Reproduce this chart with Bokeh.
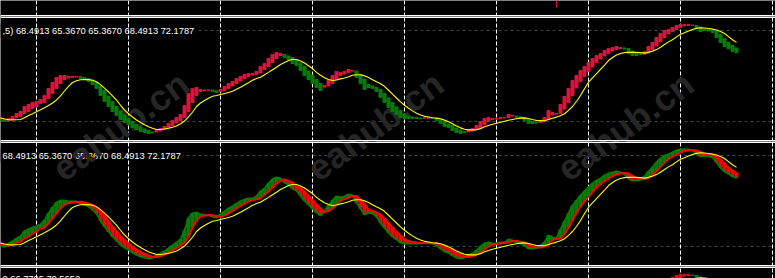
import numpy as np
from bokeh.plotting import figure
from bokeh.layouts import column
from bokeh.models import Range1d, Span, Label, Grid, FixedTicker, ColumnDataSource
from bokeh.embed import file_html
from bokeh.resources import INLINE
from bokeh.core.properties import value

# ---------------- data ----------------
ha_open = [
    21.3, 21.0, 20.7, 21.3, 22.6, 23.3, 25.3, 26.6, 28.6, 29.9,
    31.9, 32.5, 35.2, 38.5, 41.8, 45.1, 47.7, 48.7, 49.0, 49.3,
    49.5, 49.0, 48.3, 47.4, 45.7, 43.7, 40.4, 36.8, 33.2, 29.9,
    26.9, 24.3, 22.0, 20.0, 18.0, 16.4, 15.1, 14.1, 13.1, 13.1,
    13.7, 14.7, 15.7, 17.4, 19.0, 20.7, 22.6, 26.6, 32.5, 37.1,
    39.8, 40.4, 40.6, 40.7, 40.2, 39.6, 40.4, 41.8, 43.4, 45.1,
    46.7, 48.3, 49.7, 50.7, 51.0, 52.0, 54.3, 56.3, 58.9, 61.5,
    63.5, 64.2, 63.2, 62.2, 60.2, 58.6, 56.3, 53.3, 50.7, 47.7,
    45.1, 42.7, 43.4, 45.1, 47.7, 50.3, 51.3, 52.3, 53.3, 53.3,
    51.0, 48.0, 44.4, 43.4, 42.4, 41.1, 38.5, 35.5, 32.5, 29.6,
    27.3, 24.9, 23.6, 23.0, 22.6, 22.3, 22.2, 22.2, 22.3, 22.2,
    21.3, 20.0, 18.4, 17.4, 15.7, 14.4, 13.4, 13.1, 13.7, 14.7,
    16.0, 18.0, 20.0, 21.3, 21.6, 22.0, 22.3, 22.6, 23.6, 23.6,
    23.1, 22.6, 21.6, 20.0, 19.3, 19.3, 20.0, 21.3, 24.3, 24.9,
    25.3, 28.2, 32.5, 37.1, 42.1, 46.4, 49.7, 53.0, 55.9, 58.9,
    61.2, 63.2, 64.8, 66.5, 67.5, 68.1, 68.5, 68.1, 66.5, 65.2,
    64.5, 64.4, 65.2, 67.5, 69.8, 72.7, 75.4, 77.7, 79.3, 80.7,
    82.0, 83.0, 83.3, 83.6, 83.3, 82.3, 81.0, 80.5, 80.0, 79.3,
    77.4, 74.7, 72.1, 70.1, 68.4913,
]
ha_close = [
    20.3, 20.0, 22.0, 23.3, 25.3, 26.6, 29.9, 31.2, 32.5, 33.2,
    34.5, 37.1, 41.8, 45.7, 49.0, 50.3, 50.3, 49.7, 49.7, 49.7,
    48.3, 47.7, 46.4, 44.4, 41.8, 37.1, 33.2, 29.9, 26.6, 24.0,
    21.3, 19.3, 18.0, 16.0, 14.7, 13.4, 12.7, 12.1, 12.7, 14.4,
    15.4, 16.7, 18.7, 20.7, 22.6, 24.6, 30.5, 38.5, 41.8, 42.4,
    41.1, 40.8, 40.8, 39.8, 39.1, 41.1, 43.1, 45.1, 46.4, 48.3,
    49.7, 51.0, 51.6, 51.6, 53.0, 56.3, 58.2, 61.5, 64.2, 65.5,
    64.8, 62.2, 60.9, 58.2, 56.9, 53.6, 50.3, 47.7, 45.1, 42.4,
    40.4, 43.7, 47.0, 50.3, 53.0, 52.3, 53.0, 54.3, 53.6, 49.0,
    45.1, 41.1, 42.4, 41.8, 39.8, 35.8, 32.5, 29.2, 26.6, 24.6,
    22.6, 22.0, 22.0, 22.0, 22.0, 22.0, 22.3, 22.4, 22.0, 20.7,
    18.7, 16.7, 16.0, 14.1, 12.7, 12.1, 12.7, 14.4, 15.4, 17.4,
    20.0, 22.0, 22.6, 22.0, 22.0, 22.6, 22.6, 24.6, 24.0, 22.6,
    22.0, 20.7, 18.7, 18.7, 19.0, 20.7, 22.6, 27.3, 26.0, 25.3,
    31.2, 36.5, 41.8, 47.0, 50.3, 53.6, 56.3, 58.9, 61.5, 63.5,
    64.8, 66.8, 68.1, 68.8, 69.4, 68.8, 67.8, 64.8, 63.5, 63.5,
    64.2, 66.2, 69.4, 72.1, 75.4, 78.0, 80.0, 80.7, 82.0, 83.3,
    84.0, 84.0, 84.0, 83.3, 81.3, 79.3, 80.0, 79.7, 78.7, 75.4,
    72.1, 69.4, 68.1, 66.2, 65.3670,
]
signal = [
    22.4, 21.6, 21.2, 21.1, 21.2, 21.3, 22.5, 24.0, 25.1, 26.5,
    27.8, 29.1, 30.5, 32.2, 34.2, 36.9, 40.1, 43.2, 45.7, 46.9,
    47.5, 47.6, 47.6, 47.2, 46.2, 44.3, 42.0, 39.5, 36.9, 34.1,
    30.7, 27.6, 25.1, 23.0, 21.0, 19.3, 17.8, 16.5, 15.5, 14.7,
    14.7, 15.1, 15.5, 16.2, 17.0, 18.5, 20.3, 23.0, 26.1, 29.9,
    32.2, 33.8, 35.3, 36.6, 37.1, 37.8, 38.5, 39.1, 39.9, 41.3,
    42.6, 44.1, 45.6, 47.2, 48.3, 49.2, 50.8, 52.4, 54.1, 55.8,
    57.6, 58.9, 60.2, 60.9, 60.9, 59.9, 58.6, 56.8, 54.9, 52.4,
    50.5, 48.9, 47.7, 47.0, 47.4, 48.1, 48.7, 49.5, 50.5, 50.8,
    50.8, 50.1, 49.0, 47.6, 46.2, 44.9, 43.2, 40.6, 38.1, 35.5,
    32.9, 30.7, 28.7, 27.0, 25.5, 24.3, 23.4, 23.0, 22.5, 22.2,
    21.8, 20.9, 19.9, 18.5, 17.0, 15.8, 14.9, 14.5, 14.5, 14.5,
    15.3, 16.5, 17.4, 18.2, 18.8, 19.5, 20.2, 20.8, 21.3, 21.8,
    22.2, 22.4, 22.0, 21.3, 20.7, 20.6, 20.5, 21.3, 22.1, 22.9,
    23.8, 25.1, 27.3, 29.9, 33.2, 37.1, 41.6, 45.9, 48.8, 51.6,
    54.4, 57.1, 60.2, 62.2, 63.8, 64.8, 65.4, 65.7, 65.6, 65.6,
    65.4, 65.1, 65.6, 66.4, 67.4, 69.0, 70.8, 72.5, 73.9, 75.8,
    77.5, 78.5, 79.6, 80.7, 81.4, 81.8, 81.6, 81.3, 80.9, 80.3,
    79.3, 78.0, 76.0, 73.9, 72.1787,
]

grid_bars = [9, 32, 55, 78, 101, 124, 147, 170, 193]
levels = [80, 20]
label_first = ",5) 68.4913 65.3670 65.3670 68.4913 72.1787"
label_second = "68.4913 65.3670 65.3670 68.4913 72.1787"
label_third = "0 66.7795 70.5652"
watermark = "eahub.cn"
watermark_bar = [30.0, 93.7, 156.2]
watermark_level = [17.0, 17.0, 17.0]
price_bar = [139]
price_high = [17.0]
price_low = [9.0]

# ---------------- geometry / style ----------------
W = 775
PX_PER_BAR = 4
K = 91 / 60            # pixels per indicator unit
X0 = 0.0
X1 = X0 + W / PX_PER_BAR
BG = "black"
GRID_COL = "white"
LEVEL_COL = "#2F4F4F"
UP1, DN1 = "#DC143C", "#008000"
UP2, DN2 = "#008000", "#FF0000"
YEL = "#FFFF00"
FONT = "Liberation Sans"

n = min(len(ha_open), len(ha_close), len(signal))
idx = np.arange(n)
o = np.array(ha_open[:n], dtype=float)
c = np.array(ha_close[:n], dtype=float)
s = np.array(signal[:n], dtype=float)
rise = c >= o
top = np.maximum(o, c)
bot = np.minimum(o, c)


def base_fig(height, y_lo, y_hi):
    p = figure(width=W, height=height, x_range=Range1d(X0, X1),
               y_range=Range1d(y_lo, y_hi), output_backend="svg",
               toolbar_location=None, x_axis_location=None,
               y_axis_location=None, min_border=0,
               background_fill_color=BG, border_fill_color=BG,
               outline_line_color=None)
    p.grid.visible = False
    return p


def add_vgrid(p):
    g = Grid(dimension=0, ticker=FixedTicker(ticks=grid_bars),
             grid_line_color=GRID_COL, grid_line_dash="4 2",
             grid_line_width=1, level="underlay")
    p.add_layout(g)


def osc_fig(top_row, height, base_row):
    y_lo = 20 - (top_row + height - base_row) / K
    y_hi = 20 + (base_row - top_row) / K
    return base_fig(height, y_lo, y_hi)


def row_val(row, base_row):
    return 20 + (base_row - row) / K


def add_sep(p, loc):
    p.add_layout(Span(location=loc, dimension="width", line_color="white",
                      line_width=1, level="overlay"))


def add_levels(p):
    for lv in levels:
        p.add_layout(Span(location=lv, dimension="width", line_color=LEVEL_COL,
                          line_dash="3 3", line_width=1, level="underlay"))


def add_label(p, txt, y, baseline="alphabetic"):
    p.add_layout(Label(x=X0, y=y, text=txt, text_font=FONT,
                       text_font_size="9.3px", text_color="white",
                       text_align="left", text_baseline=baseline,
                       background_fill_color=BG, padding=2, level="underlay"))


def add_watermark(p, shift):
    p.text(x=watermark_bar, y=[v + shift for v in watermark_level],
           text=[watermark] * len(watermark_bar), angle=0.63,
           text_font=value(FONT), text_font_style="bold",
           text_font_size="36px", text_color="#262626",
           text_align="center", text_baseline="middle")


# ---- top (price window tail) ----
f0 = base_fig(16, 0, 16)
add_vgrid(f0)
f0.segment(x0=price_bar, y0=price_high, x1=price_bar, y1=price_low,
           line_color=UP1, line_width=1)
add_sep(f0, 1.0)

# ---- panel 1 : bars + signal ----
B1 = 121
f1 = osc_fig(16, 125, B1)
add_levels(f1)
add_label(f1, label_first, levels[0])
add_vgrid(f1)
add_watermark(f1, 0.0)
src1 = ColumnDataSource(dict(x=idx, top=top, bottom=bot,
                             color=np.where(rise, UP1, DN1)))
f1.vbar(x="x", top="top", bottom="bottom", width=0.75, color="color", source=src1)
f1.line(idx, s, line_color=YEL, line_width=1.1)
add_sep(f1, row_val(17, B1))
add_sep(f1, row_val(140, B1))

# ---- panel 2 : lines + histogram + signal ----
B2 = 246
f2 = osc_fig(141, 125, B2)
add_levels(f2)
add_label(f2, label_second, levels[0])
add_vgrid(f2)
add_watermark(f2, 125 / K)
src2 = ColumnDataSource(dict(x=idx, top=top, bottom=bot,
                             color=np.where(rise, UP2, DN2)))
f2.vbar(x="x", top="top", bottom="bottom", width=0.75, color="color", source=src2)
f2.line(idx, c, line_color=UP2, line_width=2)
f2.line(idx, o, line_color=DN2, line_width=2)
f2.line(idx, s, line_color=YEL, line_width=1.1)
add_sep(f2, row_val(142, B2))
add_sep(f2, row_val(265, B2))

# ---- panel 3 (only its top edge is visible) ----
B3 = 371
f3 = osc_fig(266, 12, B3)
add_levels(f3)
add_label(f3, label_third, row_val(271, B3), baseline="top")
add_vgrid(f3)
src3 = ColumnDataSource(dict(x=idx, top=top, bottom=bot,
                             color=np.where(rise, DN2, UP2)))
f3.vbar(x="x", top="top", bottom="bottom", width=0.75, color="color", source=src3)
f3.line(idx, s, line_color=YEL, line_width=1.1)
add_sep(f3, row_val(267, B3))

layout = column(f0, f1, f2, f3, spacing=0)
open("out.html", "w").write(file_html(layout, INLINE))
